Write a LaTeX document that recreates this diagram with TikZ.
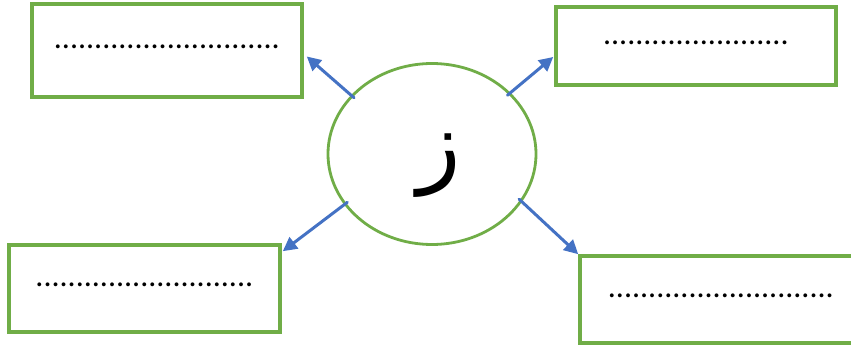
\documentclass[tikz,border=0pt]{standalone}
\usepackage{fontspec}
\setmainfont{Carlito}
\newfontfamily\arabicfont[Script=Arabic]{DejaVu Sans}
\TeXXeTstate=1
\usetikzlibrary{shapes.geometric,arrows.meta}
\definecolor{boxgreen}{HTML}{70AD47}
\definecolor{arrowblue}{HTML}{4472C4}
\begin{document}
\begin{tikzpicture}[x=1pt,y=-1pt,line cap=round,line join=round,
  answerbox/.style={draw=boxgreen,line width=3.6pt,line join=miter,inner sep=0pt,font=\fontsize{32}{34}\selectfont,text height=3pt,text depth=6pt},
  letterring/.style={ellipse,draw=boxgreen,line width=2.8pt,inner sep=0pt,minimum width=208pt,minimum height=181pt},
  pointer/.style={draw=arrowblue,line width=3pt,-{Triangle[length=14pt,width=14pt]},shorten <=-4pt}]
\useasboundingbox (0,0) rectangle (851,347);
\clip (0,0) rectangle (851,347);

\node[letterring] (z) at (432,154) {};
\node[inner sep=0pt] (zay) at (439,166) {\fontsize{90}{92}\arabicfont\beginR ز\endR};

\node[answerbox,minimum width=270pt,minimum height=93pt] (b1) at (167,50.5) {............................};
\node[answerbox,minimum width=280pt,minimum height=78pt] (b2) at (696,46) {.......................};
\node[answerbox,minimum width=271pt,minimum height=87pt] (b3) at (144.5,288.5) {...........................};
\node[answerbox,minimum width=282pt,minimum height=87pt] (b4) at (721,299.5) {............................};

\draw[pointer] (z.144) -- ([xshift=3pt,yshift=-6pt]b1.east);
\draw[pointer] (z.38) -- ([xshift=-1pt,yshift=-11pt]b2.west);
\draw[pointer] (z.210) -- ([xshift=1pt,yshift=-8pt]b3.north east);
\draw[pointer] (z.332) -- (b4.north west);
\end{tikzpicture}
\end{document}
